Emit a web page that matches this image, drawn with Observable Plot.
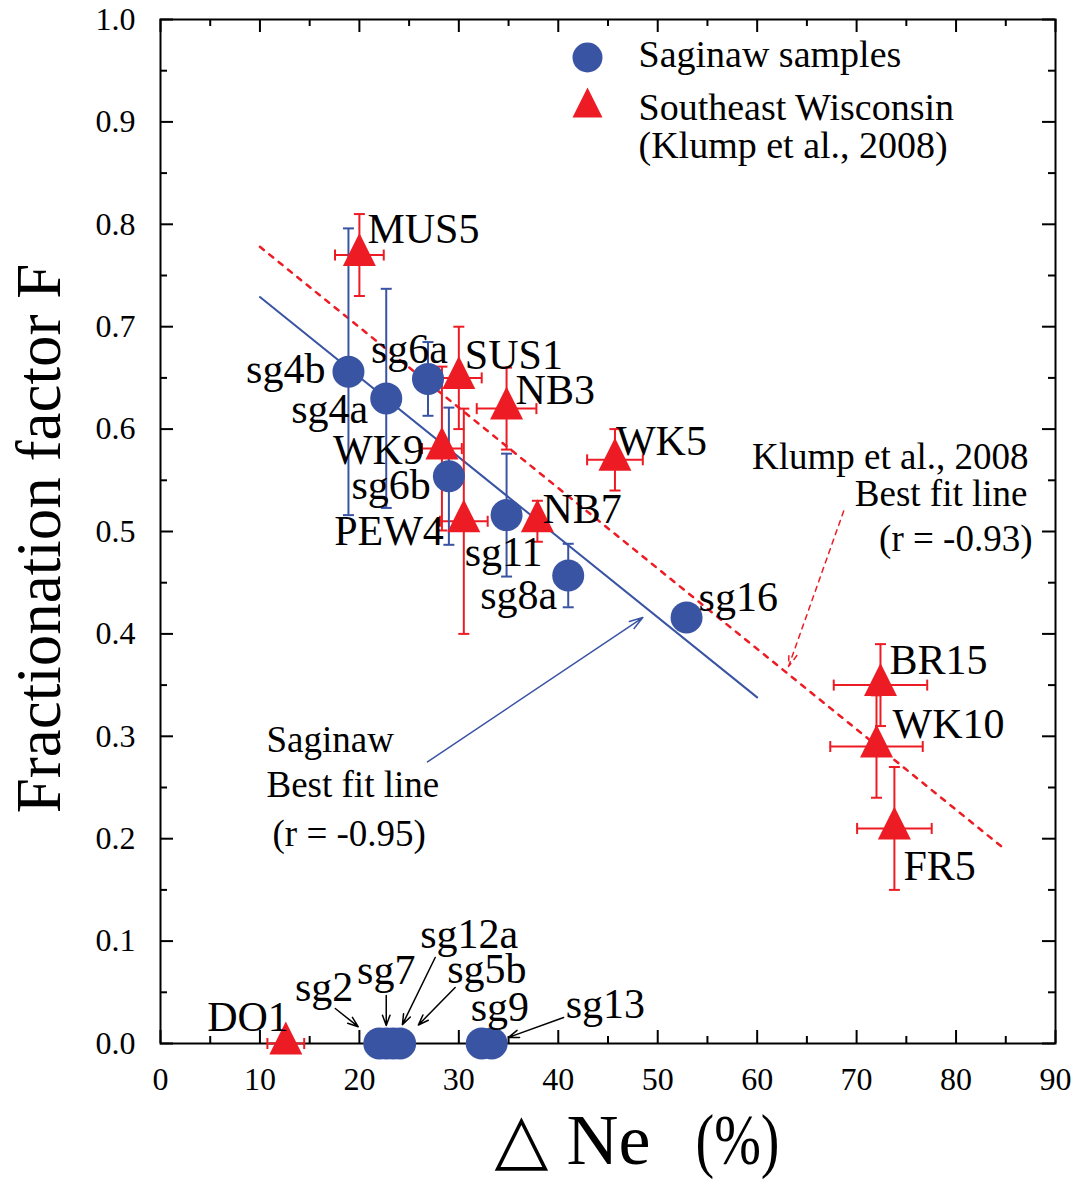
<!DOCTYPE html>
<html>
<head>
<meta charset="utf-8">
<script src="https://cdn.jsdelivr.net/npm/d3@7"></script>
<script src="https://cdn.jsdelivr.net/npm/@observablehq/plot@0.6"></script>
<style>
  html, body { margin: 0; padding: 0; background: #fff; }
  #chart svg { display: block; }
</style>
</head>
<body>
<div id="chart"></div>
<script>
// ---- Saginaw samples (this study) ----
const saginawIds  = ["sg4b", "sg4a", "sg6a", "sg6b", "sg11", "sg8a", "sg16", "sg2", "sg7", "sg12a", "sg5b", "sg9", "sg13"];
const saginawNe   = [18.9, 22.7, 26.9, 29.0, 34.8, 41.0, 52.9, 22.0, 22.7, 23.4, 24.1, 32.3, 33.3];
const saginawF    = [0.656, 0.630, 0.649, 0.554, 0.516, 0.457, 0.416, 0, 0, 0, 0, 0, 0];
const saginawFErr = [0.140, 0.107, 0.036, 0.067, 0.060, 0.031, 0, 0, 0, 0, 0, 0, 0];

// ---- Southeast Wisconsin (Klump et al., 2008) ----
const wiscIds   = ["MUS5", "SUS1", "NB3", "WK9", "PEW4", "NB7", "WK5", "BR15", "WK10", "FR5", "DO1"];
const wiscNe    = [20.0, 30.0, 34.8, 28.3, 30.5, 37.9, 45.7, 72.4, 72.0, 73.8, 12.6];
const wiscF     = [0.770, 0.650, 0.620, 0.581, 0.510, 0.510, 0.570, 0.350, 0.290, 0.210, 0];
const wiscNeErr = [2.45, 2.3, 3.0, 2.0, 2.4, 0, 2.8, 4.7, 4.65, 3.75, 1.85];
const wiscFErr  = [0.040, 0.050, 0.040, 0.080, 0.110, 0.020, 0.030, 0.040, 0.050, 0.060, 0];

// ---- Best fit lines (end points) ----
const saginawFitNe = [10, 60];
const saginawFitF  = [0.729, 0.338];
const klumpFitNe   = [10, 85];
const klumpFitF    = [0.778, 0.189];

// ---- Axis ticks ----
const xMajor = d3.range(0, 91, 10);
const xMinor = d3.range(5, 90, 10);
const yMajor = d3.range(0, 11).map(i => i / 10);
const yMinor = d3.range(0, 10).map(i => i / 10 + 0.05);

// ---- Layout ----
const W = 1078, H = 1179;
const M = {top: 19, right: 23, bottom: 136, left: 160};
const plotW = W - M.left - M.right;
const plotH = H - M.top - M.bottom;
const SERIF = "'Liberation Serif', 'Times New Roman', Times, serif";
const BLUE = "#3a54a4";
const RED = "#ed1c24";

const sx = d3.scaleLinear([0, 90], [M.left, W - M.right]);
const sy = d3.scaleLinear([0, 1], [H - M.bottom, M.top]);

const saginaw = saginawIds.map((id, i) => ({id, ne: saginawNe[i], f: saginawF[i], fErr: saginawFErr[i]}));
const wisc = wiscIds.map((id, i) => ({id, ne: wiscNe[i], f: wiscF[i], neErr: wiscNeErr[i], fErr: wiscFErr[i]}));
const points = [...saginaw, ...wisc];
const byId = new Map(points.map(p => [p.id, p]));

// sample label placement: [id, textAnchor, dx, dy] in pixels from the marker centre
const labelPlacement = [
  ["MUS5", "start", 8, -25], ["sg4b", "end", -23, -2], ["sg4a", "end", -18, 11],
  ["sg6a", "end", 20, -29], ["SUS1", "start", 6, -22], ["NB3", "start", 9, -18],
  ["WK9", "end", -18, 2], ["sg6b", "end", -18, 9], ["PEW4", "end", -20, 10],
  ["NB7", "start", 5, -12], ["sg11", "middle", -3, 37], ["sg8a", "end", -11, 20],
  ["sg16", "start", 12, -20], ["WK5", "start", 1, -18], ["BR15", "start", 9, -25],
  ["WK10", "start", 16, -22], ["FR5", "start", 9, 38], ["DO1", "end", 3, -26],
  ["sg2", "end", -26, -56], ["sg7", "middle", 0, -73], ["sg12a", "start", 27, -109],
  ["sg5b", "start", 47, -74], ["sg9", "start", -11, -36], ["sg13", "start", 74, -39]
];

// leader arrows for the samples sitting on F = 0: [id, tail dx, tail dy, insetEnd]
const leaders = [
  ["sg2", -44, -35, 27], ["sg7", 0, -48, 18], ["sg12a", 42, -86, 21],
  ["sg5b", 55, -56, 26], ["sg13", 72, -26, 18]
];

// custom marker shapes
const triangleUp = {
  draw(ctx, size) {
    const r = Math.sqrt(size / Math.PI), h = 2 * r;
    ctx.moveTo(0, -h * 2 / 3);
    ctx.lineTo(r, h / 3);
    ctx.lineTo(-r, h / 3);
    ctx.closePath();
  }
};
const capH = {draw(ctx, size) { const r = Math.sqrt(size / Math.PI); ctx.moveTo(-r, 0); ctx.lineTo(r, 0); }};
const capV = {draw(ctx, size) { const r = Math.sqrt(size / Math.PI); ctx.moveTo(0, -r); ctx.lineTo(0, r); }};

const tick = 13, minorTick = 7;
const fitLine = (xs, ys) => xs.map((x, i) => ({ne: x, f: ys[i]}));

function errorBars(data, color) {
  const withF = data.filter(d => d.fErr > 0);
  const withNe = data.filter(d => d.neErr > 0);
  const common = {stroke: color, strokeWidth: 2};
  return [
    Plot.ruleX(withF, {x: "ne", y1: d => d.f - d.fErr, y2: d => d.f + d.fErr, ...common}),
    Plot.ruleY(withNe, {y: "f", x1: d => d.ne - d.neErr, x2: d => d.ne + d.neErr, ...common}),
    Plot.dot(withF, {x: "ne", y: d => d.f + d.fErr, symbol: capH, r: 5.5, fill: "none", ...common}),
    Plot.dot(withF, {x: "ne", y: d => d.f - d.fErr, symbol: capH, r: 5.5, fill: "none", ...common}),
    Plot.dot(withNe, {x: d => d.ne + d.neErr, y: "f", symbol: capV, r: 5.5, fill: "none", ...common}),
    Plot.dot(withNe, {x: d => d.ne - d.neErr, y: "f", symbol: capV, r: 5.5, fill: "none", ...common})
  ];
}

const labelMarks = labelPlacement.map(([id, anchor, dx, dy]) =>
  Plot.text([byId.get(id)], {x: "ne", y: "f", text: "id", textAnchor: anchor, lineAnchor: "middle", dx, dy,
    fontSize: 42, fontFamily: SERIF, fill: "black"}));

const leaderMarks = leaders.map(([id, ax, ay, inset]) => {
  const p = byId.get(id);
  return Plot.arrow([p], {
    x1: d => sx.invert(sx(d.ne) + ax), y1: d => sy.invert(sy(d.f) + ay),
    x2: "ne", y2: "f", insetEnd: inset, stroke: "black", strokeWidth: 1.5,
    headLength: 11, headAngle: 40
  });
});

// free text placed relative to a corner of the frame
const note = (text, dx, dy, anchor, size, frameAnchor = "top-left", extra = {}) =>
  Plot.text([text], {frameAnchor, text: d => d, dx, dy, textAnchor: anchor, lineAnchor: "middle",
    fontSize: size, fontFamily: SERIF, fill: "black", ...extra});

const chart = Plot.plot({
  width: W,
  height: H,
  marginTop: M.top, marginRight: M.right, marginBottom: M.bottom, marginLeft: M.left,
  x: {domain: [0, 90], axis: null},
  y: {domain: [0, 1], axis: null},
  style: {fontFamily: SERIF, background: "white", color: "black"},
  marks: [
    // tick labels
    Plot.axisX({ticks: xMajor, tickSize: 0, tickPadding: 24, fontSize: 32, fontFamily: SERIF, label: null}),
    Plot.axisY({ticks: yMajor, tickSize: 0, tickPadding: 25, tickFormat: d3.format(".1f"), fontSize: 32, fontFamily: SERIF, label: null}),
    // inward ticks on all four sides
    Plot.tickX(xMajor, {x: d => d, insetTop: plotH - tick, strokeWidth: 2}),
    Plot.tickX(xMinor, {x: d => d, insetTop: plotH - minorTick, strokeWidth: 2}),
    Plot.tickX(xMajor, {x: d => d, insetBottom: plotH - tick, strokeWidth: 2}),
    Plot.tickX(xMinor, {x: d => d, insetBottom: plotH - minorTick, strokeWidth: 2}),
    Plot.tickY(yMajor, {y: d => d, insetRight: plotW - tick, strokeWidth: 2}),
    Plot.tickY(yMinor, {y: d => d, insetRight: plotW - minorTick, strokeWidth: 2}),
    Plot.tickY(yMajor, {y: d => d, insetLeft: plotW - tick, strokeWidth: 2}),
    Plot.tickY(yMinor, {y: d => d, insetLeft: plotW - minorTick, strokeWidth: 2}),
    Plot.frame({stroke: "black", strokeWidth: 2}),

    // axis titles
    note("Fractionation factor F", -120.5, 7, "middle", 63, "left", {rotate: -90}),
    note("△", 334, 96, "start", 70, "bottom-left", {fontFamily: "'DejaVu Sans', sans-serif"}),
    note("Ne", 406, 97, "start", 72, "bottom-left"),
    note("(%)", 535, 97, "start", 72, "bottom-left", {className: "pct-label"}),

    // best fit lines
    Plot.line(fitLine(klumpFitNe, klumpFitF), {x: "ne", y: "f", stroke: RED, strokeWidth: 2.5, strokeDasharray: "5,7"}),
    Plot.line(fitLine(saginawFitNe, saginawFitF), {x: "ne", y: "f", stroke: BLUE, strokeWidth: 2}),

    // error bars
    ...errorBars(wisc, RED),
    ...errorBars(saginaw, BLUE),

    // markers
    Plot.dot(saginaw, {x: "ne", y: "f", r: 16, fill: BLUE, stroke: "none"}),
    Plot.dot(wisc, {x: "ne", y: "f", r: 16.5, symbol: triangleUp, fill: RED, stroke: "none"}),

    // sample labels and leaders
    ...labelMarks,
    ...leaderMarks,

    // fit line annotations
    note("Saginaw", 106, 721, "start", 37),
    note("Best fit line", 106, 766, "start", 37),
    note("(r = -0.95)", 112, 815, "start", 37),
    Plot.arrow([{x1: 26.85, y1: 0.275, x2: 48.5, y2: 0.416}], {x1: "x1", y1: "y1", x2: "x2", y2: "y2",
      stroke: BLUE, strokeWidth: 1.5, headLength: 14, headAngle: 35}),
    note("Klump et al., 2008", 868, 438, "end", 37),
    note("Best fit line", 867, 475, "end", 37),
    note("(r = -0.93)", 872, 520, "end", 37),
    Plot.arrow([{x1: 68.7, y1: 0.520, x2: 63.15, y2: 0.368}], {x1: "x1", y1: "y1", x2: "x2", y2: "y2",
      stroke: RED, strokeWidth: 1.5, strokeDasharray: "5,5", headLength: 14, headAngle: 35}),

    // legend
    Plot.dot([0], {frameAnchor: "top-left", dx: 427, dy: 38, r: 15, fill: BLUE, stroke: "none"}),
    Plot.dot([0], {frameAnchor: "top-left", dx: 427, dy: 88, r: 15, symbol: triangleUp, fill: RED, stroke: "none"}),
    note("Saginaw samples", 478, 35, "start", 38),
    note("Southeast Wisconsin", 478, 88, "start", 38),
    note("(Klump et al., 2008)", 478, 126, "start", 38)
  ]
});

// the percent group in the axis title is set narrower than the regular face
d3.select(chart).selectAll(".pct-label text")
  .attr("textLength", 84)
  .attr("lengthAdjust", "spacingAndGlyphs");

document.getElementById("chart").appendChild(chart);
</script>
</body>
</html>
